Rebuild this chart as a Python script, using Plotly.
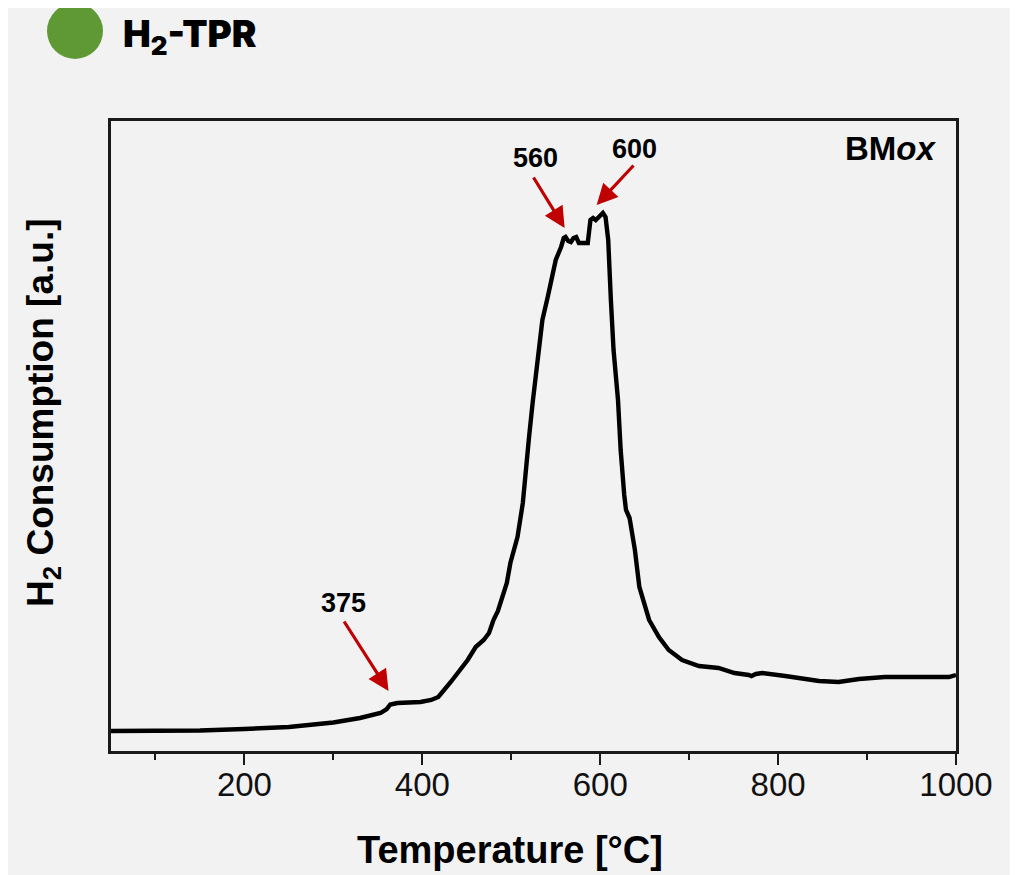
import plotly.graph_objects as go

# Temperature [°C] and H2 consumption [a.u.]
temperature = [50, 100, 150, 200, 250, 300, 330, 353, 360, 364, 368, 372, 385, 398, 410, 418, 432, 442,
               451, 460, 469, 475, 480, 485, 490, 495, 499, 503, 507, 513, 516, 520, 524, 528, 531, 535,
               541, 547, 550, 556, 559, 561, 564, 567, 570, 573, 576, 581, 586, 589, 592, 595, 598, 601,
               603, 606, 609, 612, 615, 620, 623, 627, 629, 633, 636, 639, 644, 650, 655, 666, 677, 692,
               711, 733, 751, 767, 770, 775, 782, 808, 827, 846, 868, 891, 920, 958, 970, 992, 1000]
consumption = [20, 20, 20.5, 22, 24, 28.5, 33, 38, 42, 46.5, 47.5, 48, 48.5, 49, 51, 54, 69, 80,
               91, 104, 111, 118, 131, 140, 154, 168, 188, 201, 214, 248, 281, 314, 348, 381, 404, 431,
               454, 478, 491, 504, 513, 514, 510, 509, 513, 514, 508, 508, 508, 531, 533, 531, 534, 537,
               538, 534, 511, 451, 401, 351, 301, 256, 241, 233, 216, 201, 164, 144, 131, 114, 101, 91,
               85, 83, 78, 76, 75, 77, 78, 75, 73, 70, 69, 72, 74, 74, 73, 74, 76]

peak_labels = ["375", "560", "600"]
arrow_head_x = [362, 560, 596]
arrow_head_y = [60, 523, 546]
arrow_tail_x = [311, 524, 639]
arrow_tail_y = [131, 575, 587]
label_x = [311, 527, 638]
label_y = [148, 593, 602]

x_ticks = [200, 400, 600, 800, 1000]

BG = "#f2f2f2"
FONT = "Liberation Sans, Arial, sans-serif"

# the page body adds an 8 px margin; compensate so the plot lands where the reference has it
OFF = 8
PL, PR, PT, PB = 111, 956, 121, 751  # plot area in page pixels


def px(x):
    return (x - PL) / (PR - PL)


def py(y):
    return (PB - y) / (PB - PT)


fig = go.Figure()
fig.add_trace(go.Scatter(x=temperature, y=consumption, mode="lines",
                         line=dict(color="black", width=4.4), showlegend=False))

for i, lab in enumerate(peak_labels):
    fig.add_annotation(x=arrow_head_x[i], y=arrow_head_y[i], ax=arrow_tail_x[i], ay=arrow_tail_y[i],
                       xref="x", yref="y", axref="x", ayref="y", text="", showarrow=True,
                       arrowhead=2, arrowsize=1.3, arrowwidth=3.2, arrowcolor="#c00000")
    fig.add_annotation(x=label_x[i], y=label_y[i], xref="x", yref="y", text="<b>%s</b>" % lab,
                       showarrow=False, font=dict(family=FONT, size=27, color="black"),
                       xanchor="center", yanchor="middle")

# sample label
fig.add_annotation(x=px(938), y=py(149), xref="paper", yref="paper",
                   text="<b>BM<i>ox</i></b>", showarrow=False, xanchor="right", yanchor="middle",
                   font=dict(family=FONT, size=33, color="black"))

# y axis title
fig.add_annotation(x=px(43), y=py(413), xref="paper", yref="paper",
                   text="<b>H<sub>2</sub> Consumption [a.u.]</b>", textangle=-90, showarrow=False,
                   xanchor="center", yanchor="middle", font=dict(family=FONT, size=37, color="black"))

# x axis title
fig.add_annotation(x=px(510), y=py(850), xref="paper", yref="paper",
                   text="<b>Temperature [°C]</b>", showarrow=False,
                   xanchor="center", yanchor="middle", font=dict(family=FONT, size=38, color="black"))

# header
fig.add_shape(type="circle", xref="paper", yref="paper",
              x0=px(47), x1=px(103), y0=py(59), y1=py(3),
              fillcolor="#5f9934", line=dict(width=0))
fig.add_annotation(x=px(121), y=py(36), xref="paper", yref="paper",
                   text="H<sub>2</sub>-TPR", showarrow=False, xanchor="left", yanchor="middle",
                   font=dict(family="Inter, sans-serif", size=37, color="black", weight=900))

fig.update_layout(
    width=1018 - OFF, height=875 - OFF,
    paper_bgcolor=BG, plot_bgcolor=BG,
    margin=dict(l=PL - OFF, r=1018 - PR, t=PT - OFF, b=875 - PB),
    xaxis=dict(range=[50, 1000], tickvals=x_ticks, ticks="outside", ticklen=11, tickwidth=2,
               tickcolor="#1a1a1a", showline=True, linecolor="#1a1a1a", linewidth=2.5, mirror=True,
               showgrid=False, zeroline=False, ticklabelstandoff=-8,
               minor=dict(dtick=100, tick0=0, ticks="outside", ticklen=6, tickwidth=2, tickcolor="#1a1a1a"),
               tickfont=dict(family=FONT, size=33, color="#111111")),
    yaxis=dict(range=[0, 630], showticklabels=False, ticks="", showline=True, linecolor="#1a1a1a",
               linewidth=2.5, mirror=True, showgrid=False, zeroline=False),
)

fig.write_html("out.html")
